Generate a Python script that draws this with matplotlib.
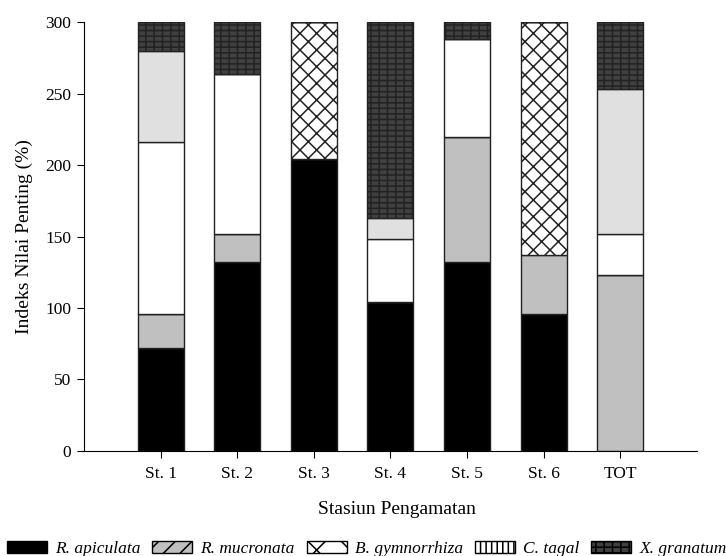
import numpy as np
import matplotlib
matplotlib.use("Agg")
import matplotlib.pyplot as plt
from matplotlib.patches import Patch

plt.rcParams['font.family'] = ['Liberation Serif', 'DejaVu Serif']
plt.rcParams['hatch.linewidth'] = 1.1

stations = ['St. 1', 'St. 2', 'St. 3', 'St. 4', 'St. 5', 'St. 6', 'TOT']

# Segment values, bottom to top
apiculata   = [72, 132, 204, 104, 132, 95.5, 0]
mucronata   = [23.5, 19.5, 0, 0, 88, 41.5, 123]
gymnorrhiza = [0, 0, 96, 0, 0, 163, 0]
white_seg   = [120.5, 112.5, 0, 44, 68.5, 0, 29]
light_seg   = [64, 0, 0, 15, 0, 0, 101]
granatum    = [20, 36, 0, 137, 11.5, 0, 47]

fig = plt.figure(figsize=(7.26, 5.56), dpi=100)
ax = fig.add_axes([0.1157, 0.189, 0.844, 0.771])

x = np.arange(len(stations))
w = 0.6
edge = '#222222'
bottom = np.zeros(len(stations))

series = [
    (apiculata, dict(color='black')),
    (mucronata, dict(color='#c0c0c0')),
    (gymnorrhiza, dict(color='white', hatch='xx')),
    (white_seg, dict(color='white')),
    (light_seg, dict(color='#e0e0e0')),
    (granatum, dict(color='#404040', hatch='---||')),
]
for vals, st in series:
    vals = np.array(vals, dtype=float)
    ax.bar(x, vals, w, bottom=bottom, edgecolor=edge, linewidth=1.0, **st)
    bottom += vals

ax.set_xlim(-1, 7)
ax.set_ylim(0, 300)
ax.set_yticks(np.arange(0, 301, 50))
ax.set_xticks(x)
ax.set_xticklabels(stations)
ax.spines['top'].set_visible(False)
ax.spines['right'].set_visible(False)
ax.tick_params(direction='out', length=5, labelsize=12.5)
ax.tick_params(axis='x', pad=6)
ax.tick_params(axis='y', pad=4)
ax.set_ylabel('Indeks Nilai Penting (%)', fontsize=14)
ax.yaxis.set_label_coords(-0.083, 0.5)
ax.set_xlabel('Stasiun Pengamatan', fontsize=14)
ax.xaxis.set_label_coords(0.51, -0.118)

handles = [
    Patch(facecolor='black', edgecolor='black', label='R. apiculata'),
    Patch(facecolor='#c0c0c0', edgecolor='black', hatch='//', label='R. mucronata'),
    Patch(facecolor='white', edgecolor='black', hatch='x', label='B. gymnorrhiza'),
    Patch(facecolor='white', edgecolor='black', hatch='|||', label='C. tagal'),
    Patch(facecolor='#404040', edgecolor='black', hatch='---||', label='X. granatum'),
]
fig.legend(handles=handles, loc='center', bbox_to_anchor=(0.505, 0.0126), ncol=5,
           frameon=False, handlelength=2.3, handleheight=0.7, handletextpad=0.46,
           columnspacing=0.7, borderpad=0, prop={'style': 'italic', 'size': 12.5})

fig.savefig('out.png', dpi=100)
